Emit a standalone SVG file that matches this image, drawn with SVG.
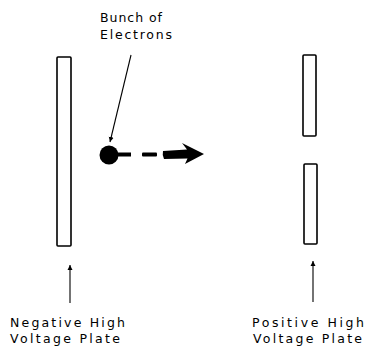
<svg xmlns="http://www.w3.org/2000/svg" width="369" height="350" viewBox="0 0 369 350">
<style>
.plate{fill:#fff;stroke:#000;stroke-width:1.6}
.lbl{font-family:"DejaVu Sans","Liberation Sans",Arial,sans-serif;font-size:12.5px;fill:#000}
.ptr{stroke:#000;stroke-width:1.1;fill:none}
</style>
<defs>
<marker id="ah" viewBox="0 0 10 10" refX="10" refY="5" markerWidth="5" markerHeight="9" markerUnits="userSpaceOnUse" orient="auto">
<path d="M0,0 L10,5 L0,10 Z" fill="#000"/>
</marker>
</defs>
<rect width="369" height="350" fill="#fff"/>
<g id="negative-plate">
<rect class="plate" x="57" y="57" width="14" height="189" rx="1"/>
</g>
<g id="positive-plate-top">
<rect class="plate" x="303" y="55" width="13" height="81" rx="1"/>
</g>
<g id="positive-plate-bottom">
<rect class="plate" x="304" y="164" width="13" height="80" rx="1"/>
</g>
<g id="electron-bunch">
<circle cx="109" cy="155" r="9.5" fill="#000"/>
</g>
<g id="labels">
<text class="lbl" x="100" y="22" textLength="62" lengthAdjust="spacing">Bunch of</text>
<text class="lbl" x="100" y="39" textLength="72" lengthAdjust="spacing">Electrons</text>
<text class="lbl" x="10" y="327" textLength="115" lengthAdjust="spacing">Negative High</text>
<text class="lbl" x="10" y="343" textLength="110" lengthAdjust="spacing">Voltage Plate</text>
<text class="lbl" x="252" y="327" textLength="112" lengthAdjust="spacing">Positive High</text>
<text class="lbl" x="253" y="343" textLength="109" lengthAdjust="spacing">Voltage Plate</text>
</g>
<g id="connectors">
<line class="ptr" x1="131" y1="55" x2="110" y2="142" marker-end="url(#ah)"/>
<line class="ptr" x1="70" y1="303" x2="70" y2="265" marker-end="url(#ah)"/>
<line class="ptr" x1="313" y1="302" x2="313" y2="261" marker-end="url(#ah)"/>
<rect x="117" y="152.5" width="14" height="4" fill="#000"/>
<rect x="142" y="152.5" width="15" height="4" rx="1" fill="#000"/>
<path d="M163,151 L187,149.5 L182,143 L204,154 L185,164 L187.5,158.5 L164,159 Q162,155 163,151 Z" fill="#000"/>
</g>
</svg>
